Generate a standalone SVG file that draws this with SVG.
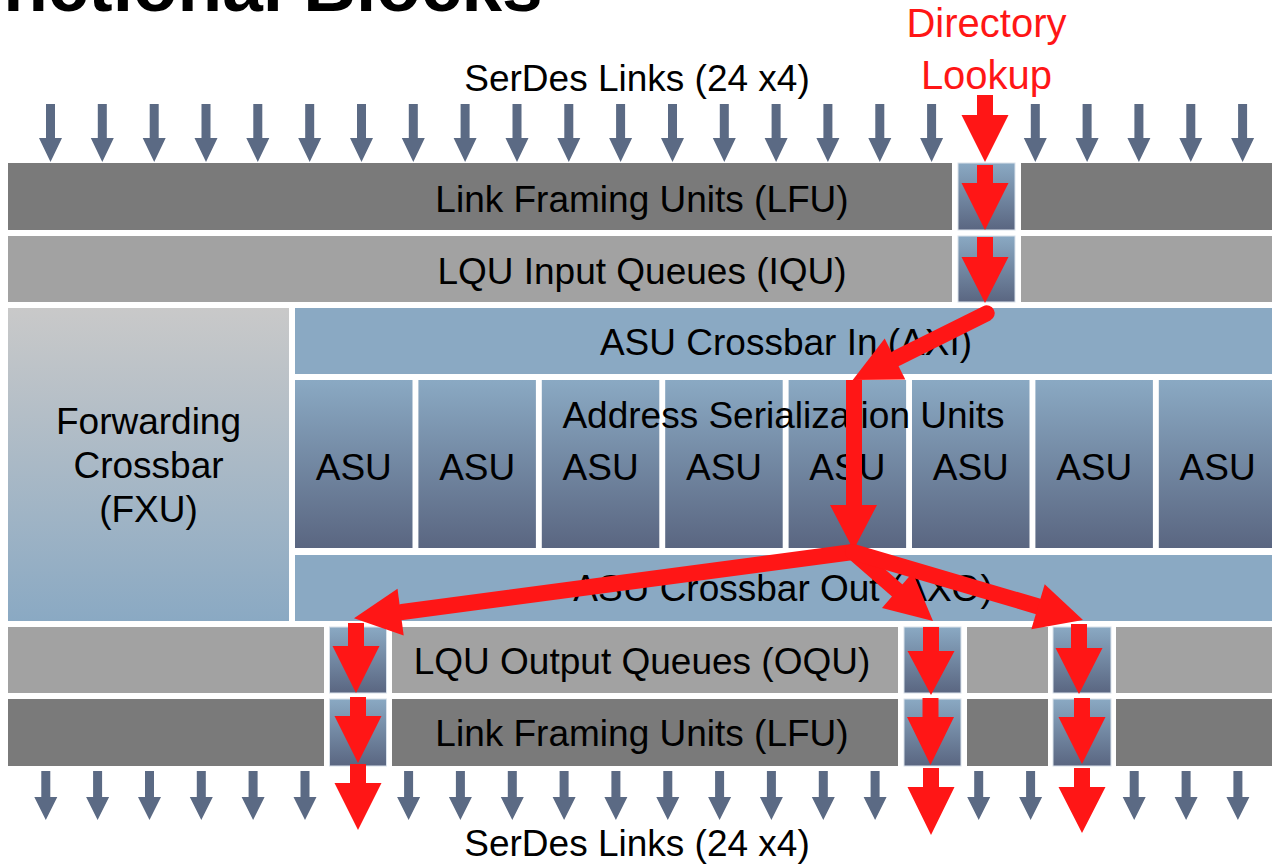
<svg xmlns="http://www.w3.org/2000/svg" xmlns:xlink="http://www.w3.org/1999/xlink" width="1272" height="865" viewBox="0 0 1272 865">
  <style>
    text { font-family: "Liberation Sans", Arial, sans-serif; fill: #000; }
    .lbl { font-size: 37px; text-anchor: middle; }
    .title { font-size: 73px; font-weight: bold; }
    .red { fill: #ff1616; font-size: 40px; text-anchor: middle; }
    .dark { fill: #7a7a7a; }
    .light { fill: #a2a2a2; }
    .blue { fill: #8aa9c3; }
    .cell { fill: url(#cellGrad); stroke: #d9e1ea; stroke-width: 1; }
    .asu { fill: url(#asuGrad); }
    .link { fill: #5b6a84; }
    .flow { fill: #ff1616; }
    .flowLine { fill: none; stroke: #ff1616; stroke-width: 16; stroke-linecap: round; }
  </style>
  <defs>
    <linearGradient id="asuGrad" x1="0" y1="0" x2="0" y2="1">
      <stop offset="0" stop-color="#8aa9c3"/>
      <stop offset="1" stop-color="#5a6681"/>
    </linearGradient>
    <linearGradient id="cellGrad" x1="0" y1="0" x2="0" y2="1">
      <stop offset="0" stop-color="#8aa9c3"/>
      <stop offset="1" stop-color="#5a6681"/>
    </linearGradient>
    <linearGradient id="fxuGrad" x1="0" y1="0" x2="0" y2="1">
      <stop offset="0" stop-color="#c9c9c9"/>
      <stop offset="1" stop-color="#8aa9c3"/>
    </linearGradient>
    <!-- small link arrows: incoming (top) and outgoing (bottom) -->
    <polygon id="inArrow" points="-4.5,0 4.5,0 4.5,34 11.5,34 0,58 -11.5,34 -4.5,34"/>
    <polygon id="outArrow" points="-4.5,0 4.5,0 4.5,26 11.5,26 0,49 -11.5,26 -4.5,26"/>
  </defs>

  <rect width="1272" height="865" fill="#fff"/>

  <text class="title" x="-86" y="11">Functional Blocks</text>

  <text class="lbl" x="637" y="91">SerDes Links (24 x4)</text>
  <text class="red" x="986.5" y="37">Directory</text>
  <text class="red" x="986.5" y="89">Lookup</text>

  <!-- incoming SerDes links -->
  <g id="links-in" class="link">
    <use xlink:href="#inArrow" x="50.5" y="104"/>
    <use xlink:href="#inArrow" x="102.3" y="104"/>
    <use xlink:href="#inArrow" x="154.2" y="104"/>
    <use xlink:href="#inArrow" x="206" y="104"/>
    <use xlink:href="#inArrow" x="257.8" y="104"/>
    <use xlink:href="#inArrow" x="309.7" y="104"/>
    <use xlink:href="#inArrow" x="361.5" y="104"/>
    <use xlink:href="#inArrow" x="413.3" y="104"/>
    <use xlink:href="#inArrow" x="465.1" y="104"/>
    <use xlink:href="#inArrow" x="517" y="104"/>
    <use xlink:href="#inArrow" x="568.8" y="104"/>
    <use xlink:href="#inArrow" x="620.6" y="104"/>
    <use xlink:href="#inArrow" x="672.5" y="104"/>
    <use xlink:href="#inArrow" x="724.3" y="104"/>
    <use xlink:href="#inArrow" x="776.1" y="104"/>
    <use xlink:href="#inArrow" x="827.9" y="104"/>
    <use xlink:href="#inArrow" x="879.8" y="104"/>
    <use xlink:href="#inArrow" x="931.6" y="104"/>
    <use xlink:href="#inArrow" x="1035.3" y="104"/>
    <use xlink:href="#inArrow" x="1087.1" y="104"/>
    <use xlink:href="#inArrow" x="1138.9" y="104"/>
    <use xlink:href="#inArrow" x="1190.8" y="104"/>
    <use xlink:href="#inArrow" x="1242.6" y="104"/>
  </g>

  <!-- top link framing units -->
  <g id="lfu-in">
    <rect class="dark" x="8" y="163" width="944" height="67"/>
    <rect class="cell" x="958" y="163" width="57" height="67"/>
    <rect class="dark" x="1021" y="163" width="251" height="67"/>
    <text class="lbl" x="642" y="212">Link Framing Units (LFU)</text>
  </g>

  <g id="iqu">
    <rect class="light" x="8" y="236" width="944" height="66"/>
    <rect class="cell" x="958" y="236" width="57" height="66"/>
    <rect class="light" x="1021" y="236" width="251" height="66"/>
    <text class="lbl" x="642" y="284">LQU Input Queues (IQU)</text>
  </g>

  <g id="fxu">
    <rect x="8" y="308" width="281" height="313" fill="url(#fxuGrad)"/>
    <text class="lbl" x="148.5" y="434">Forwarding</text>
    <text class="lbl" x="148.5" y="478">Crossbar</text>
    <text class="lbl" x="148.5" y="522">(FXU)</text>
  </g>

  <g id="axi">
    <rect class="blue" x="295" y="308" width="977" height="66"/>
    <text class="lbl" x="786" y="355">ASU Crossbar In (AXI)</text>
  </g>

  <g id="asu">
    <rect class="asu" x="295" y="380" width="117.5" height="168"/>
    <rect class="asu" x="418.4" y="380" width="117.5" height="168"/>
    <rect class="asu" x="541.8" y="380" width="117.5" height="168"/>
    <rect class="asu" x="665.2" y="380" width="117.5" height="168"/>
    <rect class="asu" x="788.6" y="380" width="117.5" height="168"/>
    <rect class="asu" x="912" y="380" width="117.5" height="168"/>
    <rect class="asu" x="1035.4" y="380" width="117.5" height="168"/>
    <rect class="asu" x="1158.8" y="380" width="117.5" height="168"/>
    <text class="lbl" x="783.5" y="428">Address Serialization Units</text>
    <text class="lbl" x="353.8" y="480">ASU</text>
    <text class="lbl" x="477.2" y="480">ASU</text>
    <text class="lbl" x="600.6" y="480">ASU</text>
    <text class="lbl" x="724" y="480">ASU</text>
    <text class="lbl" x="847.4" y="480">ASU</text>
    <text class="lbl" x="970.8" y="480">ASU</text>
    <text class="lbl" x="1094.2" y="480">ASU</text>
    <text class="lbl" x="1217.6" y="480">ASU</text>
  </g>

  <g id="axo">
    <rect class="blue" x="295" y="555" width="977" height="66"/>
    <text class="lbl" x="783" y="601">ASU Crossbar Out (AXO)</text>
  </g>

  <g id="oqu">
    <rect class="light" x="8" y="627" width="316" height="66"/>
    <rect class="cell" x="329.5" y="627" width="57" height="66"/>
    <rect class="light" x="392" y="627" width="506" height="66"/>
    <rect class="cell" x="904" y="627" width="57" height="66"/>
    <rect class="light" x="967" y="627" width="81" height="66"/>
    <rect class="cell" x="1053" y="627" width="58" height="66"/>
    <rect class="light" x="1116" y="627" width="156" height="66"/>
    <text class="lbl" x="642" y="674">LQU Output Queues (OQU)</text>
  </g>

  <g id="lfu-out">
    <rect class="dark" x="8" y="699" width="316" height="67"/>
    <rect class="cell" x="329.5" y="699" width="57" height="67"/>
    <rect class="dark" x="392" y="699" width="506" height="67"/>
    <rect class="cell" x="904" y="699" width="57" height="67"/>
    <rect class="dark" x="967" y="699" width="81" height="67"/>
    <rect class="cell" x="1053" y="699" width="58" height="67"/>
    <rect class="dark" x="1116" y="699" width="156" height="67"/>
    <text class="lbl" x="642" y="746">Link Framing Units (LFU)</text>
  </g>

  <!-- outgoing SerDes links -->
  <g id="links-out" class="link">
    <use xlink:href="#outArrow" x="45.8" y="771"/>
    <use xlink:href="#outArrow" x="97.6" y="771"/>
    <use xlink:href="#outArrow" x="149.5" y="771"/>
    <use xlink:href="#outArrow" x="201.3" y="771"/>
    <use xlink:href="#outArrow" x="253.1" y="771"/>
    <use xlink:href="#outArrow" x="305" y="771"/>
    <use xlink:href="#outArrow" x="408.6" y="771"/>
    <use xlink:href="#outArrow" x="460.4" y="771"/>
    <use xlink:href="#outArrow" x="512.3" y="771"/>
    <use xlink:href="#outArrow" x="564.1" y="771"/>
    <use xlink:href="#outArrow" x="615.9" y="771"/>
    <use xlink:href="#outArrow" x="667.8" y="771"/>
    <use xlink:href="#outArrow" x="719.6" y="771"/>
    <use xlink:href="#outArrow" x="771.4" y="771"/>
    <use xlink:href="#outArrow" x="823.3" y="771"/>
    <use xlink:href="#outArrow" x="875.1" y="771"/>
    <use xlink:href="#outArrow" x="978.7" y="771"/>
    <use xlink:href="#outArrow" x="1030.6" y="771"/>
    <use xlink:href="#outArrow" x="1134.2" y="771"/>
    <use xlink:href="#outArrow" x="1186.1" y="771"/>
    <use xlink:href="#outArrow" x="1237.9" y="771"/>
  </g>

  <text class="lbl" x="637" y="856">SerDes Links (24 x4)</text>

  <!-- request path through the directory lookup -->
  <g id="connectors">
    <!-- down through the lookup column -->
    <polygon class="flow" points="977,95 993,95 993,115 1008.5,115 985,162 961.5,115 977,115"/>
    <polygon class="flow" points="977,165 993,165 993,183 1008.5,183 985,230 961.5,183 977,183"/>
    <polygon class="flow" points="977,237 993,237 993,257 1008.5,257 985,303 961.5,257 977,257"/>

    <!-- into the crossbar and one ASU -->
    <line class="flowLine" x1="986.7" y1="313.3" x2="897" y2="358"/>
    <polygon class="flow" points="884.7,338.4 852.7,380 905.3,379.6"/>
    <polygon class="flow" points="846,380 862,380 862,505 877,505 853.5,550 830,505 846,505"/>

    <!-- fan-out through the output crossbar -->
    <line class="flowLine" x1="853" y1="552" x2="402" y2="612"/>
    <polygon class="flow" points="397.5,588.8 354,618.3 403.7,635.4"/>
    <line class="flowLine" x1="853" y1="552" x2="899" y2="592"/>
    <polygon class="flow" points="912.7,572.5 933,621 882,608"/>
    <line class="flowLine" x1="853" y1="552" x2="1040" y2="607"/>
    <polygon class="flow" points="1044.7,584.2 1083,620 1031.3,629.2"/>

    <!-- down through the output columns -->
    <polygon class="flow" points="348,623 364,623 364,646 379.5,646 356,693 332.5,646 348,646"/>
    <polygon class="flow" points="350,697 366,697 366,716 381.5,716 358,763 334.5,716 350,716"/>
    <polygon class="flow" points="350,764 366,764 366,783 381.5,783 358,830 334.5,783 350,783"/>

    <polygon class="flow" points="923,627 939,627 939,651 954.5,651 931,695 907.5,651 923,651"/>
    <polygon class="flow" points="922.5,698 938.5,698 938.5,717 954,717 930.5,765 907,717 922.5,717"/>
    <polygon class="flow" points="923,768 939,768 939,787 954.5,787 931,835 907.5,787 923,787"/>

    <polygon class="flow" points="1071,624 1087,624 1087,648 1102.5,648 1079,694 1055.5,648 1071,648"/>
    <polygon class="flow" points="1074,698 1090,698 1090,717 1105.5,717 1082,764 1058.5,717 1074,717"/>
    <polygon class="flow" points="1074,768 1090,768 1090,787 1105.5,787 1082,833 1058.5,787 1074,787"/>
  </g>
</svg>
